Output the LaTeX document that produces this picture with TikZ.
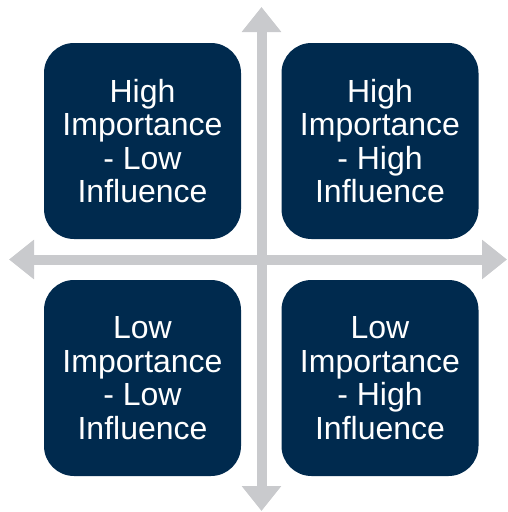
\documentclass[tikz,border=0pt]{standalone}
\usepackage{fontspec}
\setmainfont{Liberation Sans}
\usepackage{xcolor}
\usetikzlibrary{
    arrows.meta
}
\definecolor{boxnavy}{RGB}{0,42,78}
\definecolor{axisgray}{RGB}{201,202,205}

\begin{document}
\begin{tikzpicture}[x=1pt,y=-1pt]
    \tikzstyle{quad}=[fill=boxnavy, text=white, rounded corners=30pt, align=center,
        minimum width=197pt, minimum height=196pt, inner sep=0pt,
        font=\fontsize{32}{33.5}\selectfont]
    \tikzstyle{axis}=[draw=axisgray, line width=10pt, {Triangle[length=25pt,width=38pt]}-{Triangle[length=25pt,width=38pt]}]
    \useasboundingbox (0, 0) rectangle (508, 512);

	\coordinate (W) at (9, 259.5);
	\coordinate (E) at (507, 259.5);
	\coordinate (N) at (261.5, 7);
	\coordinate (S) at (261.5, 511);

	\draw [axis] (W) -- (E);
	\draw [axis] (N) -- (S);

	\node [quad] (HL) at (142.5, 141) {High\\ Importance\\ - Low\\ Influence};
	\node [quad] (HH) at (380, 141) {High\\ Importance\\ - High\\ Influence};
	\node [quad] (LL) at (142.5, 378) {Low\\ Importance\\ - Low\\ Influence};
	\node [quad] (LH) at (380, 378) {Low\\ Importance\\ - High\\ Influence};
	\end{tikzpicture}
\end{document}
